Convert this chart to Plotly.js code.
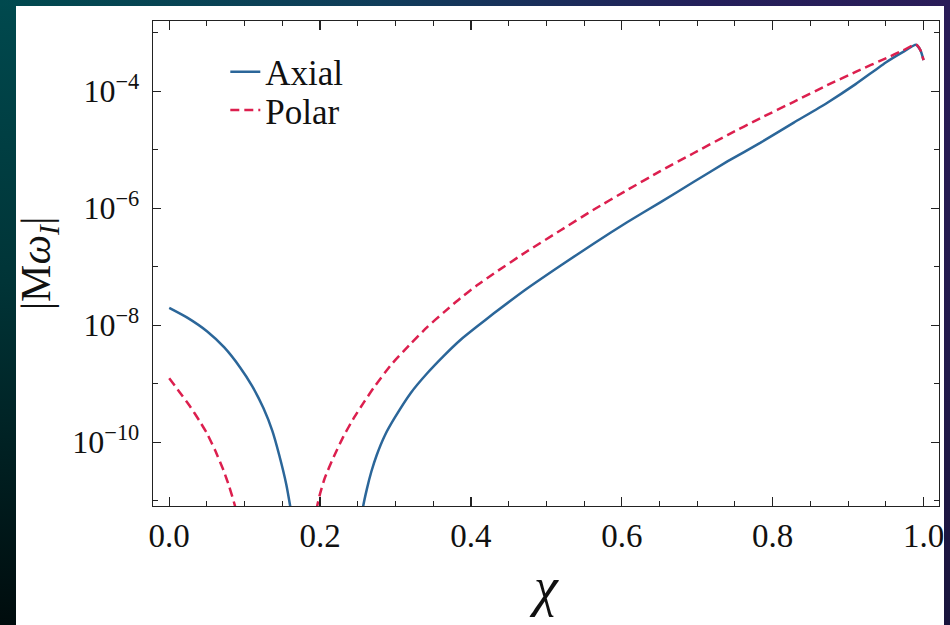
<!DOCTYPE html>
<html>
<head>
<meta charset="utf-8">
<script src="https://cdn.plot.ly/plotly-3.0.1.min.js"></script>
<style>
  html, body { margin: 0; padding: 0; width: 950px; height: 625px; overflow: hidden; background: #ffffff; }
  #frameL { position: absolute; left: 0; top: 0; width: 16px; height: 625px; background: linear-gradient(to bottom, #00494e 0%, #003437 45%, #000c0d 100%); }
  #frameT { position: absolute; left: 0; top: 0; width: 950px; height: 6px; background: linear-gradient(to right, #00494e 0%, #103d5a 40%, #241f5a 75%, #2a1c58 100%); }
  #frameR { position: absolute; right: 0; top: 0; width: 6px; height: 625px; background: linear-gradient(to bottom, #2a1c58 0%, #221a4c 60%, #1a143c 100%); }
  #chart { position: absolute; left: 0; top: 0; width: 950px; height: 625px; }
</style>
</head>
<body>
<div id="frameL"></div>
<div id="frameT"></div>
<div id="frameR"></div>
<div id="chart"></div>
<script>
// Spin parameter chi and |M omega_I| for the axial and polar modes
const chiAxial = [0, 0.0239, 0.050, 0.073, 0.094, 0.110, 0.125, 0.1366, 0.1459, 0.1552, 0.1605, 0.163,
  null,
  0.254, 0.257, 0.262, 0.268, 0.275, 0.286, 0.298, 0.320, 0.342, 0.364, 0.386, 0.408, 0.430, 0.474, 0.519,
  0.563, 0.607, 0.651, 0.695, 0.740, 0.784, 0.828, 0.872, 0.910, 0.951, 0.973, 0.990, 0.996, 1.000];
const omegaAxial = [1.98e-8, 1.35e-8, 7.9e-9, 4.17e-9, 1.9e-9, 9.1e-10, 3.8e-10, 1.58e-10, 6.0e-11, 1.9e-11, 7.9e-12, 5.0e-12,
  null,
  4e-12, 7.9e-12, 1.58e-11, 3.16e-11, 6.0e-11, 1.32e-10, 2.5e-10, 6.9e-10, 1.51e-9, 3.0e-9, 5.6e-9, 9.5e-9, 1.58e-8, 4.2e-8, 1.05e-7,
  2.5e-7, 5.75e-7, 1.26e-6, 2.8e-6, 6.3e-6, 1.32e-5, 2.9e-5, 6.3e-5, 1.32e-4, 3.16e-4, 4.7e-4, 6.2e-4, 5.0e-4, 3.4e-4];

const chiPolar = [0, 0.0133, 0.0279, 0.0398, 0.050, 0.061, 0.072, 0.0796, 0.0866, 0.0900,
  null,
  0.193, 0.196, 0.200, 0.206, 0.218, 0.231, 0.245, 0.258, 0.271, 0.294, 0.320, 0.342, 0.364, 0.386, 0.408, 0.430,
  0.474, 0.519, 0.563, 0.607, 0.651, 0.695, 0.740, 0.784, 0.828, 0.872, 0.910, 0.951, 0.973, 0.990, 0.996, 1.000];
const omegaPolar = [1.24e-9, 7.3e-10, 4.05e-10, 2.35e-10, 1.42e-10, 7.2e-11, 3.3e-11, 1.74e-11, 8.7e-12, 5.6e-12,
  null,
  4e-12, 7.9e-12, 1.32e-11, 2.4e-11, 5.6e-11, 1.26e-10, 2.63e-10, 4.8e-10, 8.5e-10, 2.1e-9, 4.8e-9, 9.3e-9, 1.66e-8, 2.9e-8, 4.8e-8, 7.6e-8,
  1.82e-7, 4.2e-7, 9.5e-7, 2.04e-6, 4.3e-6, 8.7e-6, 1.78e-5, 3.47e-5, 6.6e-5, 1.26e-4, 2.14e-4, 3.7e-4, 5.0e-4, 6.3e-4, 5.0e-4, 3.4e-4];

const seriesNames = ["Axial", "Polar"];
const xTickVals = [0, 0.2, 0.4, 0.6, 0.8, 1.0];
const xTickText = ["0.0", "0.2", "0.4", "0.6", "0.8", "1.0"];
const yTickVals = [1e-10, 1e-8, 1e-6, 1e-4];
const yTickText = ["10<sup>\u221210</sup>", "10<sup>\u22128</sup>", "10<sup>\u22126</sup>", "10<sup>\u22124</sup>"];
const yMinorVals = [1e-11, 1e-9, 1e-7, 1e-5, 1e-3];

const serif = "'Liberation Serif', 'Times New Roman', serif";
const legendFont = { family: serif, size: 35, color: "#111" };

const traces = [
  { x: chiAxial, y: omegaAxial, name: seriesNames[0], type: "scatter", mode: "lines", legend: "legend",
    line: { color: "#2b6699", width: 2.5, shape: "spline", smoothing: 0.5 }, connectgaps: false },
  { x: chiPolar, y: omegaPolar, name: seriesNames[1], type: "scatter", mode: "lines", legend: "legend2",
    line: { color: "#dc1f4e", width: 2.5, dash: "9px,5px", shape: "spline", smoothing: 0.5 }, connectgaps: false }
];

const layout = {
  width: 950, height: 625,
  margin: { l: 153, r: 11, t: 21, b: 119 },
  paper_bgcolor: "rgba(0,0,0,0)",
  plot_bgcolor: "#ffffff",
  showlegend: true,
  legend: { x: 0.092, y: 0.895, xanchor: "left", yanchor: "middle", bgcolor: "rgba(0,0,0,0)", font: legendFont },
  legend2: { x: 0.092, y: 0.816, xanchor: "left", yanchor: "middle", bgcolor: "rgba(0,0,0,0)", font: legendFont },
  xaxis: {
    range: [-0.0215, 1.0205], showgrid: false, zeroline: false,
    showline: true, linecolor: "#222", linewidth: 1.3, mirror: "ticks",
    ticks: "inside", ticklen: 9, tickwidth: 1.2, tickcolor: "#222",
    tickmode: "array", tickvals: xTickVals, ticktext: xTickText,
    tickfont: { family: serif, size: 33, color: "#111" },
    minor: { ticks: "inside", ticklen: 5, tickwidth: 1, tickcolor: "#222", dtick: 0.05, tick0: 0 },
    title: { text: "<i>\u03c7</i>", font: { family: serif, size: 54, color: "#111" }, standoff: 14 }
  },
  yaxis: {
    type: "log", range: [-11.09, -2.80], showgrid: false, zeroline: false,
    showline: true, linecolor: "#222", linewidth: 1.3, mirror: "ticks",
    ticks: "inside", ticklen: 8, tickwidth: 1.2, tickcolor: "#222",
    tickmode: "array", tickvals: yTickVals, ticktext: yTickText,
    ticklabelstandoff: 6,
    tickfont: { family: serif, size: 32, color: "#111" },
    minor: { ticks: "inside", ticklen: 5, tickwidth: 1, tickcolor: "#222", tickmode: "array", tickvals: yMinorVals },
    title: { text: "|M<i>\u03c9</i><sub><i>I</i></sub>|", font: { family: serif, size: 42, color: "#111" }, standoff: 8 }
  }
};

Plotly.newPlot("chart", traces, layout, { displayModeBar: false, staticPlot: true });
</script>
</body>
</html>
